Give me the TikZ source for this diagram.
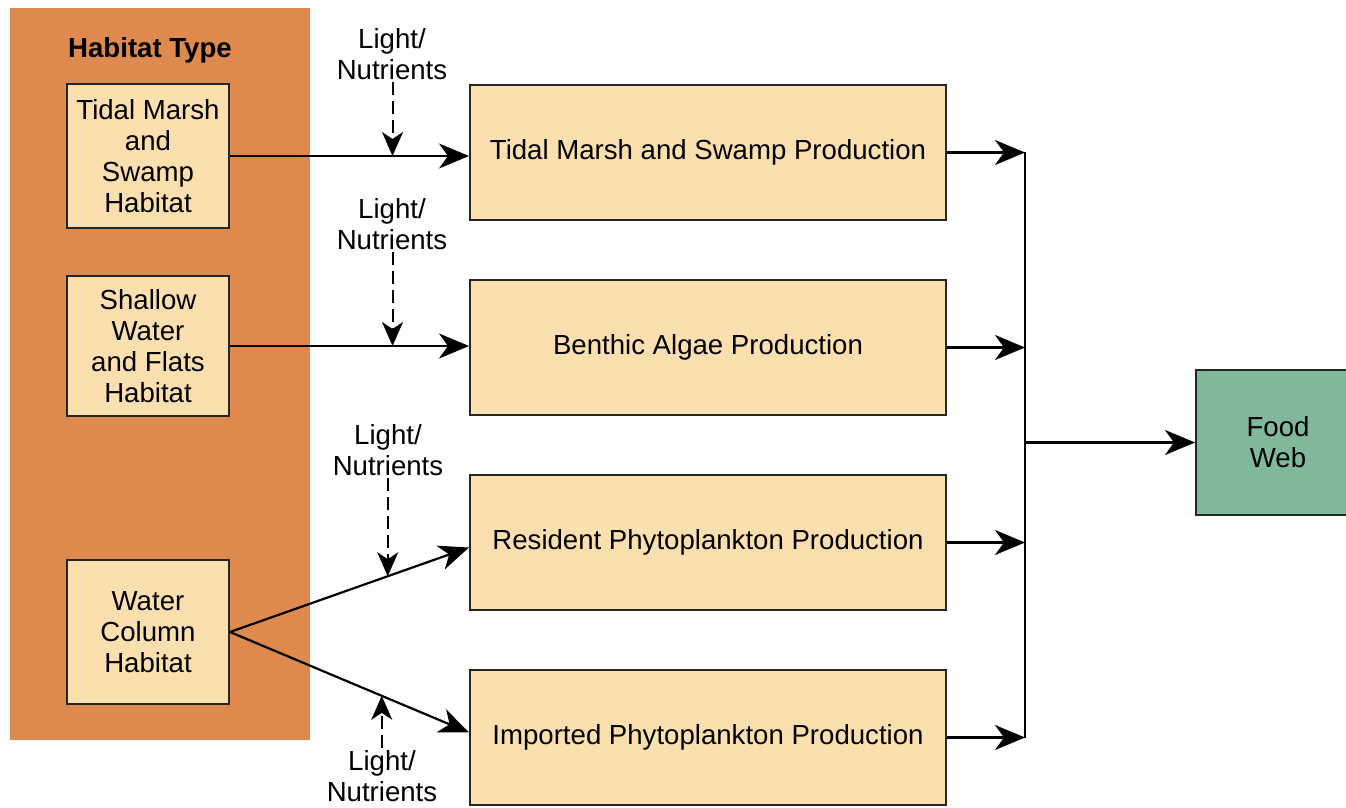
\documentclass[tikz,border=0pt]{standalone}
\usepackage{fontspec}
\setmainfont{Liberation Sans}
\usetikzlibrary{arrows.meta,calc}
\definecolor{habor}{RGB}{222,137,77}
\definecolor{peach}{RGB}{252,223,174}
\definecolor{fwgreen}{RGB}{127,185,153}
\tikzset{
  every node/.style={font=\fontsize{13.8}{15.5}\selectfont},
  habbox/.style={draw=black!85, line width=1pt, fill=peach, inner sep=0pt, align=center},
  prodbox/.style={draw=black!85, line width=1pt, fill=peach, inner sep=0pt, minimum width=238pt, minimum height=67.5pt, align=center},
  flow/.style={line width=1.1pt, -{Stealth[length=15pt,width=12.5pt,inset=4.5pt]}},
  supply/.style={line width=1pt, dash pattern=on 6.5pt off 3pt, -{Stealth[length=12pt,width=10.5pt,inset=3.5pt]}},
  lbl/.style={align=center, inner sep=1pt}
}
\begin{document}
\begin{tikzpicture}[x=0.5pt,y=-0.5pt]
\clip (0,0) rectangle (1346,808);
\fill[white] (0,0) rectangle (1346,808);
% habitat background
\fill[habor] (10,8) rectangle (310,740);
\node[font=\fontsize{13.8}{15.5}\selectfont\bfseries] (ht) at (150,50) {Habitat Type};
% habitat boxes
\node[habbox, minimum width=81pt, minimum height=72pt] (th) at (148,156) {Tidal Marsh\\and\\Swamp\\Habitat};
\node[habbox, minimum width=81pt, minimum height=70pt] (sw) at (148,346) {Shallow\\Water\\and Flats\\Habitat};
\node[habbox, minimum width=81pt, minimum height=72pt] (wc) at (148,632) {Water\\Column\\Habitat};
% production boxes
\node[prodbox] (tp) at (708,152.5) {Tidal Marsh and Swamp Production};
\node[prodbox] (bp) at (708,347.5) {Benthic Algae Production};
\node[prodbox] (rp) at (708,542.5) {Resident Phytoplankton Production};
\node[prodbox] (ip) at (708,737.5) {Imported Phytoplankton Production};
% food web
\node[draw=black!85, line width=1pt, fill=fwgreen, inner sep=0pt, minimum width=82pt, minimum height=72.5pt, align=center] (fw) at (1278,442.5) {Food\\Web};
% flows from habitats
\coordinate (tpin) at (th.east -| tp.west);
\coordinate (bpin) at (sw.east -| bp.west);
\coordinate (rpin) at ($(rp.west)+(0,5)$);
\coordinate (ipin) at ($(ip.west)+(0,-5)$);
\draw[flow] (th.east) -- (tpin);
\draw[flow] (sw.east) -- (bpin);
\draw[flow] (wc.east) -- (rpin);
\draw[flow] (wc.east) -- (ipin);
% supply points
\coordinate (c1) at ($(th.east)!0.68!(tpin)$);
\coordinate (c2) at ($(sw.east)!0.68!(bpin)$);
\coordinate (c3) at ($(wc.east)!0.66!(rpin)$);
\coordinate (c4) at ($(wc.east)!0.635!(ipin)$);
\node[lbl] (l1) at (392,54) {Light/\\Nutrients};
\node[lbl] (l2) at (392,224) {Light/\\Nutrients};
\node[lbl] (l3) at (388,450) {Light/\\Nutrients};
\node[lbl] (l4) at (382,776) {Light/\\Nutrients};
\draw[supply] (l1.south -| c1) -- (c1);
\draw[supply] (l2.south -| c2) -- (c2);
\draw[supply] (l3.south -| c3) -- (c3);
\draw[supply] (l4.north -| c4) -- (c4);
% collector
\coordinate (col1) at (tp.east -| 1025,0);
\coordinate (col2) at (bp.east -| 1025,0);
\coordinate (col3) at (rp.east -| 1025,0);
\coordinate (col4) at (ip.east -| 1025,0);
\draw[flow] (tp.east) -- (col1);
\draw[flow] (bp.east) -- (col2);
\draw[flow] (rp.east) -- (col3);
\draw[flow] (ip.east) -- (col4);
\draw[line width=1.1pt] (col1) -- (col4);
\coordinate (fwout) at (fw.west -| 1025,0);
\draw[flow] (fwout) -- (fw.west);
\end{tikzpicture}
\end{document}
